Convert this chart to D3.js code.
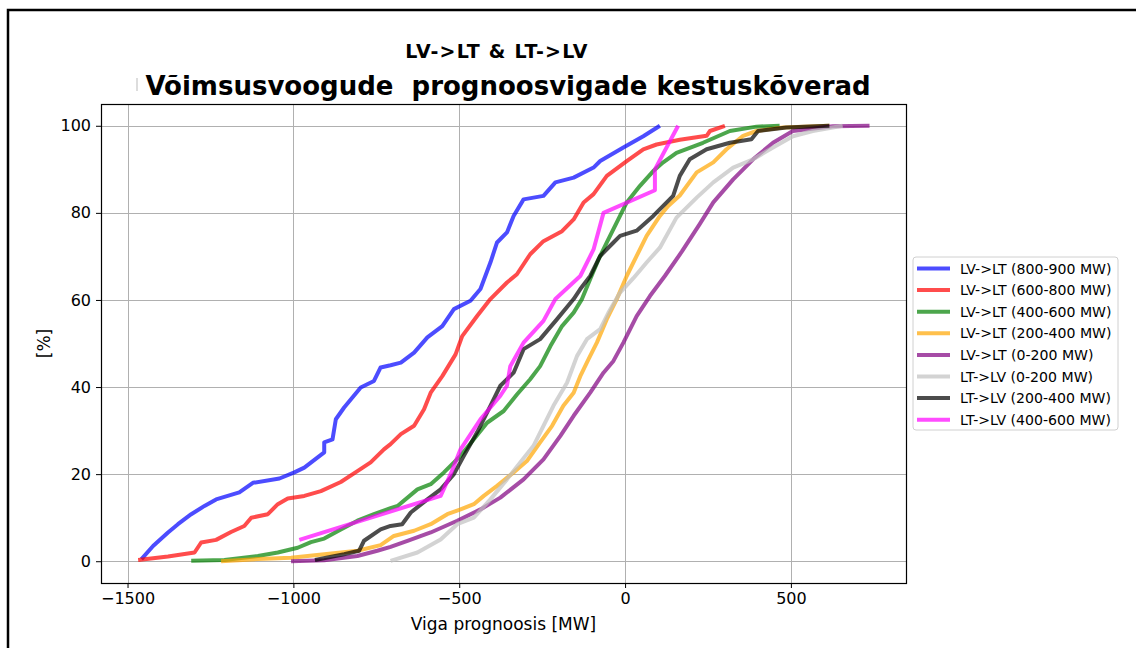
<!DOCTYPE html>
<html>
<head>
<meta charset="utf-8">
<script src="https://cdn.jsdelivr.net/npm/d3@7"></script>
<style>
  body { margin: 0; background: #fff; }
  svg { font-family: "DejaVu Sans", sans-serif; }
</style>
</head>
<body>
<div id="chart"></div>
<script>
const width = 1136;
const height = 648;

// series labels and colours (plot order = legend order)
const seriesNames = [
  "LV->LT (800-900 MW)", "LV->LT (600-800 MW)", "LV->LT (400-600 MW)", "LV->LT (200-400 MW)",
  "LV->LT (0-200 MW)", "LT->LV (0-200 MW)", "LT->LV (200-400 MW)", "LT->LV (400-600 MW)"
];
const seriesColors = ["blue", "red", "green", "orange", "purple", "silver", "black", "magenta"];

// [forecast error MW, cumulative %]
const lvlt800 = [[-1458,0.5],[-1423,3.5],[-1378,6.6],[-1348,8.5],[-1308,10.8],[-1268,12.7],[-1233,14.2],[-1163,15.8],
  [-1122,18],[-1042,19],[-997,20.4],[-967,21.5],[-907,25],[-907,27.3],[-882,28],[-872,32.6],[-847,35.3],[-797,39.9],
  [-757,41.4],[-737,44.5],[-707,45],[-676,45.6],[-636,47.9],[-596,51.4],[-551,54],[-516,57.9],[-466,59.8],[-436,62.5],
  [-406,68.6],[-386,73.2],[-356,75.5],[-336,79.3],[-306,83.1],[-246,83.9],[-210,87],[-155,88.1],[-95,90.4],[-75,91.9],
  [-5,95],[55,97.6],[105,100]];
const lvlt600 = [[-1468,0.3],[-1378,1.1],[-1298,2],[-1278,4.3],[-1233,4.9],[-1188,6.7],[-1148,8.1],[-1127,10],
  [-1077,10.8],[-1047,13.1],[-1017,14.4],[-967,15],[-917,16.1],[-857,18.2],[-807,20.7],[-767,22.7],[-727,25.7],
  [-707,26.9],[-676,29.2],[-636,31.1],[-606,34.9],[-586,38.7],[-551,42.5],[-511,47.5],[-491,51.7],[-446,56.3],
  [-406,60.2],[-356,64],[-326,65.9],[-286,70.5],[-246,73.5],[-190,75.8],[-155,78.5],[-125,82.4],[-95,84.3],
  [-55,88.5],[5,91.9],[55,94.6],[95,95.7],[165,96.8],[246,97.7],[256,98.8],[301,100]];
const lvlt400 = [[-1308,0.1],[-1208,0.3],[-1107,1.2],[-1047,2],[-987,3.1],[-947,4.4],[-907,5.2],[-857,7.3],
  [-807,9.3],[-757,10.8],[-707,12.2],[-686,12.7],[-626,16.5],[-586,17.7],[-546,20.4],[-496,24.2],[-456,28],
  [-416,31.8],[-366,34.5],[-326,38.3],[-286,41.8],[-256,44.8],[-225,49.4],[-190,54],[-155,57.1],[-130,60.2],
  [-105,64.8],[-80,69.3],[-55,73.2],[-25,77.8],[5,82.4],[45,86.2],[85,89.6],[115,91.6],[155,93.8],[235,96.1],
  [316,98.8],[396,99.8],[466,100]];
const lvlt200 = [[-1218,0],[-1107,0.5],[-1007,0.8],[-907,1.6],[-807,2.4],[-737,3.7],[-697,5.8],[-636,7],
  [-586,8.5],[-536,10.8],[-496,11.9],[-456,13.1],[-426,15],[-386,17.3],[-336,20.4],[-296,23],[-256,27.3],
  [-220,31.1],[-186,35.7],[-155,38.7],[-135,42.5],[-110,46.4],[-85,50.2],[-55,55.6],[-25,60.2],[5,65.5],
  [35,70.1],[65,74.7],[105,79.3],[130,81.6],[165,84],[216,89.3],[266,91.6],[306,94.6],[356,97.7],[396,98.8],
  [476,99.6],[616,100]];
const lvlt0 = [[-1007,0],[-907,0.2],[-807,1.2],[-747,2.4],[-707,3.3],[-656,4.7],[-586,6.6],[-506,9.3],
  [-436,11.9],[-376,14.6],[-306,18.8],[-246,23.4],[-195,28.8],[-155,33.4],[-105,38.7],[-65,43.3],[-35,46],
  [-5,50.2],[35,56.3],[75,60.9],[120,65.5],[172,71.2],[225,77.4],[266,82.4],[326,87.7],[386,92.3],[446,96.1],
  [506,98.8],[626,99.9],[737,100]];
const ltlv0 = [[-707,0.1],[-626,2],[-556,5],[-506,8.5],[-456,10],[-406,14.2],[-356,18.8],[-316,22.7],
  [-276,26.5],[-246,31.1],[-216,35.7],[-175,41],[-145,47.1],[-115,51],[-75,53.3],[-50,57.1],[-15,61.7],
  [25,65],[65,68.6],[105,72],[155,78.9],[216,83.5],[266,87],[326,90.4],[386,92.3],[446,95],[506,97.6],
  [566,98.8],[656,100]];
const ltlv200 = [[-935,0.3],[-847,1.6],[-802,2.4],[-787,4.7],[-737,7.3],[-707,8.1],[-672,8.5],[-646,11.2],
  [-596,14.2],[-556,16.5],[-516,20],[-486,24.2],[-446,29.6],[-406,35.7],[-376,40.3],[-336,43.3],[-306,48.7],
  [-256,51],[-205,55.6],[-155,60.2],[-135,62.5],[-105,65.5],[-75,70.1],[-35,73.2],[-15,74.7],[35,75.9],
  [85,79.3],[145,83.9],[165,88.5],[195,92.3],[246,94.6],[316,96.1],[381,96.9],[401,98.8],[486,99.6],[616,100]];
const ltlv400 = [[-982,4.9],[-556,15],[-526,20],[-496,25.7],[-436,32.6],[-376,38],[-356,40.3],[-346,44.8],
  [-306,50.2],[-246,55.2],[-210,60.2],[-135,65.5],[-95,71.6],[-65,80],[90,85.2],[90,90],[160,100]];

const seriesData = [lvlt800, lvlt600, lvlt400, lvlt200, lvlt0, ltlv0, ltlv200, ltlv400];

const xTicks = [-1500, -1000, -500, 0, 500];
const yTicks = [0, 20, 40, 60, 80, 100];

const margin = { left: 101, top: 104, right: 906, bottom: 583 };

const svg = d3.select("#chart").append("svg")
    .attr("width", width)
    .attr("height", height);

svg.append("rect").attr("width", width).attr("height", height).attr("fill", "#fff");

// outer frame (top and left edges visible)
svg.append("path")
    .attr("d", `M8,${height} L8,10 L${width},10`)
    .attr("fill", "none")
    .attr("stroke", "#000")
    .attr("stroke-width", 2.5);

const x = d3.scaleLinear().domain([-1580, 847]).range([margin.left, margin.right]);
const y = d3.scaleLinear().domain([-5, 105]).range([margin.bottom, margin.top]);

// grid
const grid = svg.append("g").attr("stroke", "#b0b0b0").attr("stroke-width", 1);
xTicks.forEach(t => grid.append("line")
    .attr("x1", Math.round(x(t)) + 0.5).attr("x2", Math.round(x(t)) + 0.5)
    .attr("y1", margin.top).attr("y2", margin.bottom));
yTicks.forEach(t => grid.append("line")
    .attr("x1", margin.left).attr("x2", margin.right)
    .attr("y1", Math.round(y(t)) + 0.5).attr("y2", Math.round(y(t)) + 0.5));

// curves
const line = d3.line().x(d => x(d[0])).y(d => y(d[1]));
const plot = svg.append("g");
seriesData.forEach((data, i) => {
    plot.append("path")
        .datum(data)
        .attr("d", line)
        .attr("fill", "none")
        .attr("stroke", seriesColors[i])
        .attr("stroke-opacity", 0.7)
        .attr("stroke-width", 4)
        .attr("stroke-linejoin", "round");
});

// axes
const xAxis = d3.axisBottom(x).tickValues(xTicks).tickSize(5).tickPadding(5)
    .tickFormat(d => d < 0 ? "\u2212" + Math.abs(d) : d);
const yAxis = d3.axisLeft(y).tickValues(yTicks).tickSize(5).tickPadding(5);

svg.append("g").attr("transform", `translate(0,${margin.bottom})`).call(xAxis)
    .call(g => g.select(".domain").remove());
svg.append("g").attr("transform", `translate(${margin.left},0)`).call(yAxis)
    .call(g => g.select(".domain").remove());
svg.selectAll(".tick text").attr("font-size", 16).attr("font-family", "DejaVu Sans").attr("fill", "#000");
svg.selectAll(".tick line").attr("stroke", "#000");

svg.append("rect")
    .attr("x", margin.left + 0.5).attr("y", margin.top + 0.5)
    .attr("width", margin.right - margin.left).attr("height", margin.bottom - margin.top)
    .attr("fill", "none").attr("stroke", "#000").attr("stroke-width", 1.2);

// axis labels
svg.append("text")
    .attr("x", (margin.left + margin.right) / 2).attr("y", 630)
    .attr("text-anchor", "middle").attr("font-size", 17)
    .text("Viga prognoosis [MW]");
svg.append("text")
    .attr("transform", `translate(50,${(margin.top + margin.bottom) / 2}) rotate(-90)`)
    .attr("text-anchor", "middle").attr("font-size", 17)
    .text("[%]");

// titles
svg.append("text")
    .attr("x", 497).attr("y", 58)
    .attr("text-anchor", "middle").attr("font-size", 19).attr("font-weight", "bold")
    .attr("letter-spacing", 1.2)
    .text("LV->LT & LT->LV");
svg.append("rect").attr("x", 136).attr("y", 78).attr("width", 2).attr("height", 13).attr("fill", "#ddd");
svg.append("text")
    .attr("x", 508).attr("y", 95)
    .attr("text-anchor", "middle").attr("font-size", 26).attr("font-weight", "bold")
    .attr("xml:space", "preserve")
    .text("Võimsusvoogude  prognoosvigade kestuskõverad");

// legend
const legend = svg.append("g").attr("transform", "translate(913,257)");
legend.append("rect")
    .attr("width", 205).attr("height", 173).attr("rx", 3)
    .attr("fill", "#fff").attr("stroke", "#d0d0d0");
seriesNames.forEach((name, i) => {
    const ly = 11.5 + i * 21.6;
    legend.append("line")
        .attr("x1", 4).attr("x2", 37).attr("y1", ly).attr("y2", ly)
        .attr("stroke", seriesColors[i]).attr("stroke-opacity", 0.7).attr("stroke-width", 4);
    legend.append("text")
        .attr("x", 47).attr("y", ly + 5).attr("font-size", 14.1)
        .text(name);
});
</script>
</body>
</html>
